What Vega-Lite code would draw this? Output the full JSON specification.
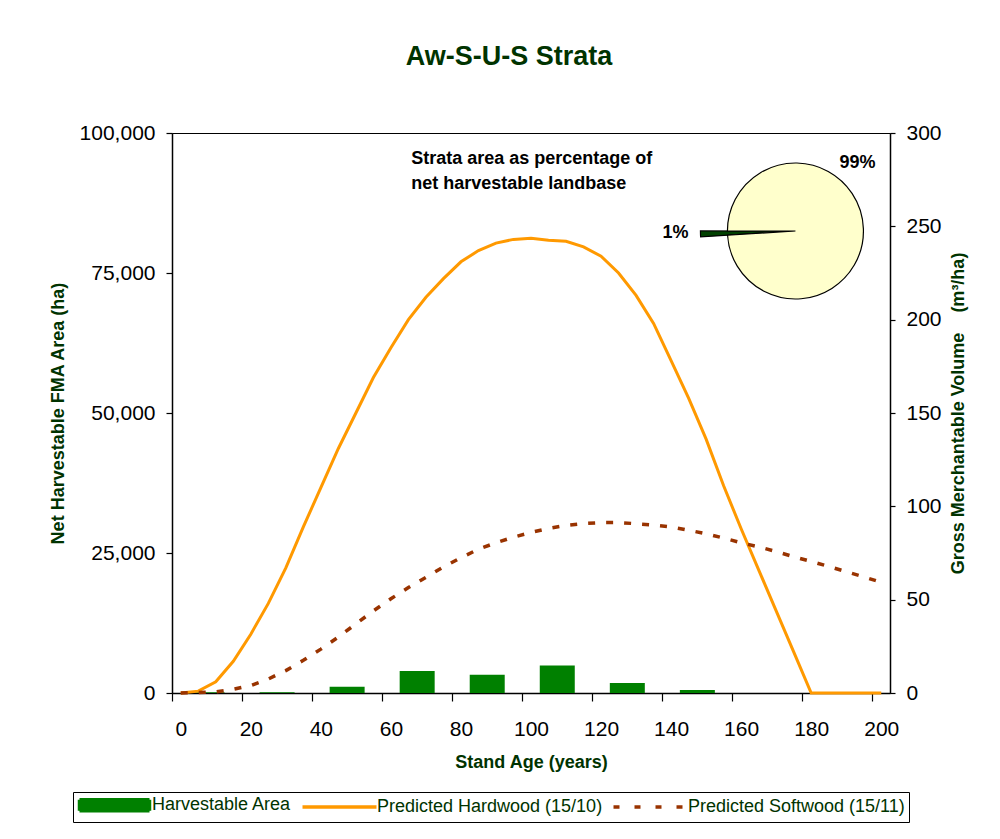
{
  "$schema": "https://vega.github.io/schema/vega-lite/v6.json",
  "width": 718,
  "height": 560,
  "autosize": "none",
  "padding": {"left": 172, "top": 133, "right": 110, "bottom": 146},
  "background": "white",
  "title": {
    "text": "Aw-S-U-S Strata",
    "font": "Liberation Sans",
    "fontSize": 27,
    "fontWeight": "bold",
    "color": "#003300",
    "anchor": "middle",
    "dx": -22,
    "offset": 51
  },
  "config": {
    "font": "Liberation Sans",
    "view": {"stroke": "black", "strokeWidth": 1},
    "axis": {
      "grid": false,
      "domainColor": "black",
      "domainWidth": 1.5,
      "tickColor": "black",
      "tickWidth": 1.2,
      "labelFont": "Liberation Sans",
      "labelFontSize": 21,
      "labelColor": "black",
      "titleFont": "Liberation Sans",
      "titleFontSize": 18,
      "titleFontWeight": "bold",
      "titleColor": "#003300"
    }
  },
  "datasets": {
    "area": [
      {"age": 10, "area": 150},
      {"age": 30, "area": 120},
      {"age": 50, "area": 1100},
      {"age": 70, "area": 3950},
      {"age": 90, "area": 3250},
      {"age": 110, "area": 4900},
      {"age": 130, "area": 1800},
      {"age": 150, "area": 550},
      {"age": 170, "area": 0},
      {"age": 190, "area": 0}
    ],
    "volume": [
      {"age": 0, "hardwood": 0, "softwood": 0},
      {"age": 5, "hardwood": 1, "softwood": 0.3},
      {"age": 10, "hardwood": 6, "softwood": 0.6},
      {"age": 15, "hardwood": 17, "softwood": 2},
      {"age": 20, "hardwood": 31.5, "softwood": 4},
      {"age": 25, "hardwood": 48, "softwood": 7.5},
      {"age": 30, "hardwood": 67, "softwood": 12},
      {"age": 35, "hardwood": 89, "softwood": 17.5},
      {"age": 40, "hardwood": 110, "softwood": 23.5},
      {"age": 45, "hardwood": 131, "softwood": 30},
      {"age": 50, "hardwood": 150, "softwood": 37},
      {"age": 55, "hardwood": 169, "softwood": 44},
      {"age": 60, "hardwood": 185, "softwood": 50.5},
      {"age": 65, "hardwood": 200, "softwood": 56.5},
      {"age": 70, "hardwood": 212, "softwood": 62},
      {"age": 75, "hardwood": 222, "softwood": 67.5},
      {"age": 80, "hardwood": 231, "softwood": 72.5},
      {"age": 85, "hardwood": 237, "softwood": 77},
      {"age": 90, "hardwood": 241, "softwood": 80.5},
      {"age": 95, "hardwood": 243, "softwood": 83.5},
      {"age": 100, "hardwood": 243.6, "softwood": 86},
      {"age": 105, "hardwood": 242.5, "softwood": 88.2},
      {"age": 110, "hardwood": 242, "softwood": 89.8},
      {"age": 115, "hardwood": 239, "softwood": 90.8},
      {"age": 120, "hardwood": 234, "softwood": 91.3},
      {"age": 125, "hardwood": 225, "softwood": 91.3},
      {"age": 130, "hardwood": 213, "softwood": 90.7},
      {"age": 135, "hardwood": 198, "softwood": 90},
      {"age": 140, "hardwood": 178, "softwood": 89},
      {"age": 145, "hardwood": 158, "softwood": 87.2},
      {"age": 150, "hardwood": 136, "softwood": 85.3},
      {"age": 155, "hardwood": 111, "softwood": 83},
      {"age": 160, "hardwood": 88, "softwood": 80.5},
      {"age": 165, "hardwood": 66, "softwood": 78.3},
      {"age": 170, "hardwood": 44, "softwood": 75.8},
      {"age": 175, "hardwood": 22, "softwood": 73},
      {"age": 180, "hardwood": 0, "softwood": 70.5},
      {"age": 185, "hardwood": 0, "softwood": 67.8},
      {"age": 190, "hardwood": 0, "softwood": 65},
      {"age": 195, "hardwood": 0, "softwood": 62.2},
      {"age": 200, "hardwood": 0, "softwood": 59.3}
    ],
    "share": [
      {"segment": "Aw-S-U-S", "share": 1},
      {"segment": "Other strata", "share": 99}
    ]
  },
  "layer": [
    {
      "data": {"name": "area"},
      "mark": {"type": "bar", "width": 35, "color": "#008000"},
      "encoding": {
        "x": {
          "field": "age",
          "type": "quantitative",
          "scale": {"domain": [0, 205], "nice": false, "zero": false, "padding": 0},
          "axis": {
            "title": "Stand Age (years)",
            "values": [0, 20, 40, 60, 80, 100, 120, 140, 160, 180, 200],
            "labelOffset": 8.75,
            "tickSize": 8,
            "labelPadding": 17,
            "titlePadding": 14,
            "labelFlush": false,
            "labelOverlap": false
          }
        },
        "y": {
          "field": "area",
          "type": "quantitative",
          "scale": {"domain": [0, 100000], "nice": false},
          "axis": {
            "title": "Net Harvestable FMA Area (ha)",
            "values": [0, 25000, 50000, 75000, 100000],
            "format": ",d",
            "tickSize": 6,
            "labelPadding": 11,
            "titlePadding": 12,
            "labelFlush": false
          }
        },
        "color": {
          "datum": "Harvestable Area",
          "type": "nominal",
          "scale": {
            "domain": ["Harvestable Area", "Predicted Hardwood (15/10)", "Predicted Softwood (15/11)"],
            "range": ["#008000", "#FF9900", "#993300"]
          },
          "legend": {
            "title": null,
            "orient": "none",
            "direction": "horizontal",
            "columns": 3,
            "legendX": -99,
            "legendY": 659,
            "padding": 4,
            "strokeColor": "black",
            "fillColor": "white",
            "columnPadding": 3,
            "symbolOffset": 28.5,
            "labelOffset": 28.5,
            "labelLimit": 400,
            "labelFont": "Liberation Sans",
            "labelFontSize": 18,
            "labelColor": "#003300",
            "symbolSize": 100,
            "symbolStrokeWidth": 3.5,
            "encode": {
              "symbols": {
                "update": {
                  "shape": {"signal": "datum.value === 'Harvestable Area' ? 'M-7,-1.1H7V1.1H-7Z' : 'M-7.4,0H7.4'"},
                  "fill": {"signal": "datum.value === 'Harvestable Area' ? '#008000' : 'transparent'"},
                  "stroke": {"signal": "datum.value === 'Harvestable Area' ? 'transparent' : (datum.value === 'Predicted Hardwood (15/10)' ? '#FF9900' : '#993300')"},
                  "strokeWidth": {"value": 3.5},
                  "strokeDash": {"signal": "datum.value === 'Predicted Softwood (15/11)' ? [6, 15] : [1, 0]"},
                  "size": {"value": 100},
                  "opacity": {"value": 1}
                }
              }
            }
          }
        }
      }
    },
    {
      "layer": [
        {
          "data": {"name": "volume"},
          "mark": {"type": "line", "strokeWidth": 3},
          "encoding": {
            "x": {
              "field": "age",
              "type": "quantitative",
              "scale": {"domain": [-2.5, 202.5], "nice": false, "zero": false, "padding": 0},
              "axis": null
            },
            "y": {
              "field": "hardwood",
              "type": "quantitative",
              "scale": {"domain": [0, 300], "nice": false},
              "axis": {
                "orient": "right",
                "title": "Gross Merchantable Volume\u00a0\u00a0\u00a0\u00a0(m³/ha)",
                "values": [0, 50, 100, 150, 200, 250, 300],
                "tickSize": 5,
                "labelPadding": 11,
                "titlePadding": 8,
                "titleAngle": 270,
                "titleBaseline": "top",
                "labelFlush": false
              }
            },
            "color": {"datum": "Predicted Hardwood (15/10)", "type": "nominal"}
          }
        },
        {
          "data": {"name": "volume"},
          "mark": {"type": "line", "strokeWidth": 3.5, "strokeDash": [7, 11], "strokeCap": "butt"},
          "encoding": {
            "x": {"field": "age", "type": "quantitative"},
            "y": {"field": "softwood", "type": "quantitative"},
            "color": {"datum": "Predicted Softwood (15/11)", "type": "nominal"}
          }
        },
        {
          "data": {"name": "share"},
          "mark": {"type": "arc", "stroke": "black", "strokeWidth": 1.2},
          "encoding": {
            "x": {"datum": 175.5, "type": "quantitative"},
            "y": {"datum": 247.5, "type": "quantitative"},
            "theta": {
              "field": "share",
              "type": "quantitative",
              "stack": true,
              "scale": {"range": [4.65, 10.933]}
            },
            "radius": {
              "field": "share",
              "type": "quantitative",
              "scale": {"type": "linear", "domain": [1, 99], "range": [95, 68], "zero": false}
            },
            "radius2": {"value": 0},
            "order": {"field": "share", "sort": "ascending"},
            "fill": {"condition": {"test": "datum.share < 50", "value": "#004000"}, "value": "#FFFFCC"}
          }
        },
        {
          "data": {"values": [{}]},
          "mark": {"type": "text", "text": "1%", "align": "right", "baseline": "middle", "fontSize": 18, "fontWeight": "bold", "color": "black"},
          "encoding": {
            "x": {"datum": 145, "type": "quantitative"},
            "y": {"datum": 246.4, "type": "quantitative"}
          }
        },
        {
          "data": {"values": [{}]},
          "mark": {"type": "text", "text": "99%", "align": "center", "baseline": "middle", "fontSize": 18, "fontWeight": "bold", "color": "black"},
          "encoding": {
            "x": {"datum": 193.2, "type": "quantitative"},
            "y": {"datum": 283.9, "type": "quantitative"}
          }
        },
        {
          "data": {"values": [{}]},
          "mark": {"type": "text", "text": ["Strata area as percentage of", "net harvestable landbase"], "align": "left", "baseline": "top", "lineHeight": 25, "fontSize": 18, "fontWeight": "bold", "color": "black"},
          "encoding": {
            "x": {"datum": 65.8, "type": "quantitative"},
            "y": {"datum": 291, "type": "quantitative"}
          }
        }
      ]
    }
  ],
  "resolve": {"scale": {"x": "independent", "y": "independent"}}
}
